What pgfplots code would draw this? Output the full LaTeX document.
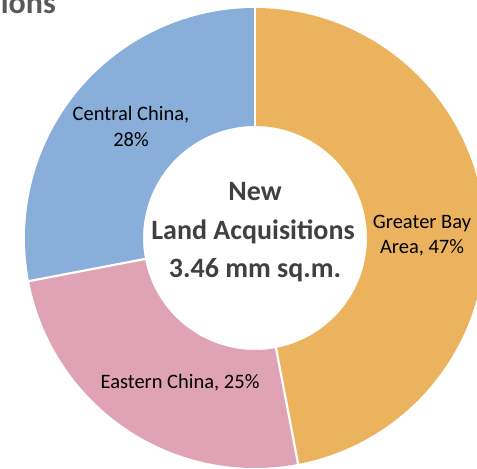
\documentclass[border=0pt]{standalone}
\usepackage{pgfplots}
\usepackage{pgfplotstable}
\pgfplotsset{compat=1.18}
\usepackage{fontspec}
\setmainfont{Carlito}

\pgfplotstableread{
region share
GBA 47
EC 25
CC 28
}\sharetable

\definecolor{gbacol}{HTML}{ECB35E}
\definecolor{eccol}{HTML}{E0A3B5}
\definecolor{cccol}{HTML}{89AED9}
\definecolor{ctrtext}{HTML}{404040}
\definecolor{titlecol}{HTML}{595959}

\begin{document}
\begin{tikzpicture}
\pgfplotstablegetelem{0}{share}\of\sharetable \let\shA\pgfplotsretval
\pgfplotstablegetelem{1}{share}\of\sharetable \let\shB\pgfplotsretval
\pgfplotstablegetelem{2}{share}\of\sharetable \let\shC\pgfplotsretval
\pgfmathsetmacro\angA{90}
\pgfmathsetmacro\angB{90-3.6*\shA}
\pgfmathsetmacro\angC{\angB-3.6*\shB}
\pgfmathsetmacro\angD{\angC-3.6*\shC}
\def\cx{255}\def\cy{231}\def\Ro{230}\def\Ri{112}
\begin{axis}[name=ax, x=1bp, y=1bp, xmin=0, xmax=477, ymin=0, ymax=469,
  hide axis, clip=false]
% sectors
\fill[gbacol] (axis cs:{\cx+\Ro*cos(\angA)},{\cy+\Ro*sin(\angA)}) arc[start angle=\angA, end angle=\angB, radius=\Ro bp]
  -- (axis cs:{\cx+\Ri*cos(\angB)},{\cy+\Ri*sin(\angB)}) arc[start angle=\angB, end angle=\angA, radius=\Ri bp] -- cycle;
\fill[eccol] (axis cs:{\cx+\Ro*cos(\angB)},{\cy+\Ro*sin(\angB)}) arc[start angle=\angB, end angle=\angC, radius=\Ro bp]
  -- (axis cs:{\cx+\Ri*cos(\angC)},{\cy+\Ri*sin(\angC)}) arc[start angle=\angC, end angle=\angB, radius=\Ri bp] -- cycle;
\fill[cccol] (axis cs:{\cx+\Ro*cos(\angC)},{\cy+\Ro*sin(\angC)}) arc[start angle=\angC, end angle=\angD, radius=\Ro bp]
  -- (axis cs:{\cx+\Ri*cos(\angD)},{\cy+\Ri*sin(\angD)}) arc[start angle=\angD, end angle=\angC, radius=\Ri bp] -- cycle;
% separators
\draw[white, line width=2.2bp] (axis cs:{\cx+(\Ri-2)*cos(\angA)},{\cy+(\Ri-2)*sin(\angA)}) -- (axis cs:{\cx+(\Ro+2)*cos(\angA)},{\cy+(\Ro+2)*sin(\angA)});
\draw[white, line width=2.2bp] (axis cs:{\cx+(\Ri-2)*cos(\angB)},{\cy+(\Ri-2)*sin(\angB)}) -- (axis cs:{\cx+(\Ro+2)*cos(\angB)},{\cy+(\Ro+2)*sin(\angB)});
\draw[white, line width=2.2bp] (axis cs:{\cx+(\Ri-2)*cos(\angC)},{\cy+(\Ri-2)*sin(\angC)}) -- (axis cs:{\cx+(\Ro+2)*cos(\angC)},{\cy+(\Ro+2)*sin(\angC)});
% labels
\node[align=center, font=\fontsize{20.5bp}{25bp}\selectfont] at (axis cs:422,233) {Greater Bay\\Area, 47\%};
\node[align=center, font=\fontsize{20.5bp}{26bp}\selectfont] at (axis cs:131,343) {Central China,\\28\%};
\node[font=\fontsize{20.5bp}{25bp}\selectfont] at (axis cs:180,86) {Eastern China, 25\%};
% centre text
\node[font=\bfseries\fontsize{28bp}{30bp}\selectfont, text=ctrtext] at (axis cs:255,277) {New};
\node[font=\bfseries\fontsize{28bp}{30bp}\selectfont, text=ctrtext] at (axis cs:253,237) {Land Acquisitions};
\node[font=\bfseries\fontsize{28bp}{30bp}\selectfont, text=ctrtext] at (axis cs:255,199) {3.46 mm sq.m.};
% cut title (cut at the top edge, as in the reference)
\node[anchor=base east, inner sep=0pt, font=\bfseries\fontsize{32bp}{36bp}\selectfont, text=titlecol] at (axis cs:56,455) {ions};
\end{axis}
\pgfresetboundingbox
\path[use as bounding box] (ax.south west) rectangle (ax.north east);
\end{tikzpicture}
\end{document}
